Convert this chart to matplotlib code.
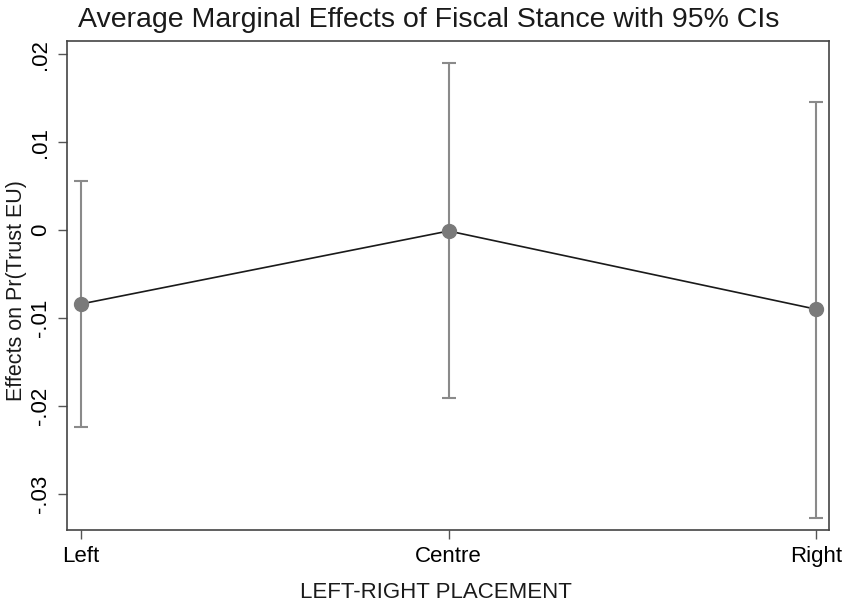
import matplotlib
matplotlib.use('Agg')
import matplotlib.pyplot as plt
import numpy as np

categories = ['Left', 'Centre', 'Right']
effects = [-0.0084, -0.0001, -0.0090]
ci_low = [-0.0224, -0.0191, -0.0327]
ci_high = [0.0056, 0.0190, 0.0146]
y_ticks = [-0.03, -0.02, -0.01, 0.0, 0.01, 0.02]
y_tick_labels = ['-.03', '-.02', '-.01', '0', '.01', '.02']

plt.rcParams['font.family'] = ['Liberation Sans', 'DejaVu Sans']

fig = plt.figure(figsize=(8.45, 6.03), dpi=100)
ax = fig.add_axes([0.0793, 0.121, 0.902, 0.811])

x = np.arange(len(categories))
eff = np.array(effects)
yerr = [eff - np.array(ci_low), np.array(ci_high) - eff]

ax.errorbar(x, eff, yerr=yerr, fmt='none', ecolor='#8a8a8a',
            elinewidth=1.5, capsize=5, capthick=1.5, zorder=2)
ax.plot(x, eff, color='#1a1a1a', linewidth=1.2, zorder=3)
ax.plot(x, eff, 'o', color='#7a7a7a', markersize=10, zorder=4)

ax.set_xlim(-0.038, 2.035)
ax.set_ylim(-0.0341, 0.0215)
ax.set_xticks(x)
ax.set_xticklabels(categories, fontsize=16)
ax.set_yticks(y_ticks)
ax.set_yticklabels(y_tick_labels, fontsize=16, rotation=90, va='center')
ax.tick_params(axis='both', length=6.5, width=1, color='#555555', pad=5)

for s in ax.spines.values():
    s.set_color('#444444')
    s.set_linewidth(1.2)

# labels placed by hand, like the Stata layout
fig.text(436 / 845, 1 - 593 / 603, 'LEFT-RIGHT PLACEMENT', fontsize=16,
         ha='center', va='center', color='#1a1a1a')
fig.text(17 / 845, 1 - 291 / 603, 'Effects on Pr(Trust EU)', fontsize=15.5,
         ha='center', va='center', rotation=90, color='#1a1a1a')
fig.text(78 / 845, 1 - 20 / 603, 'Average Marginal Effects of Fiscal Stance with 95% CIs',
         fontsize=20.5, ha='left', va='center', color='#1a1a1a')

fig.savefig('out.png', dpi=100)
